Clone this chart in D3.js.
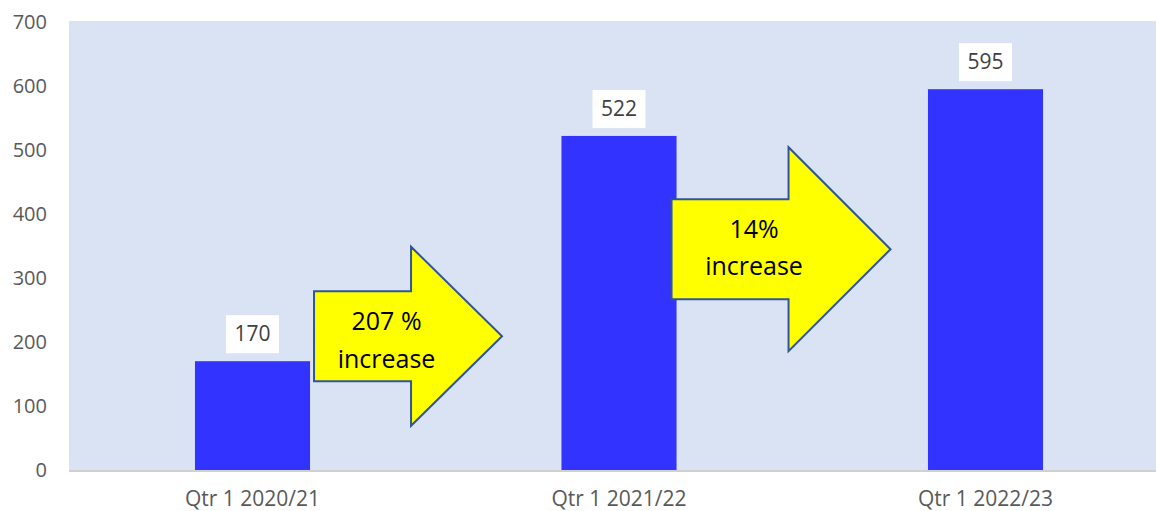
<!DOCTYPE html>
<html><head><meta charset="utf-8">
<script src="https://cdn.jsdelivr.net/npm/d3@7"></script>
<style>body{margin:0;background:#fff}svg{display:block}text{font-family:"Open Sans",sans-serif}</style>
</head><body><svg id="c" width="1157" height="511"></svg>
<script>
const categories = ["Qtr 1 2020/21", "Qtr 1 2021/22", "Qtr 1 2022/23"];
const values = [170, 522, 595];
const yTicks = [0, 100, 200, 300, 400, 500, 600, 700];
// arrow annotations: from category index, label lines, centre value
const arrowFrom = [0, 1];
const arrowLabels = [["207 %", "increase"], ["14%", "increase"]];
const arrowCenterValue = [209, 345];

(function () {
const svg = d3.select("#c");
const mLeft = 69, mTop = 21, mBottom = 470, plotRight = 1156;
const x = d3.scaleBand().domain(categories).range([69.25, 1168.75]).paddingInner(0.686).paddingOuter(0.343);
const y = d3.scaleLinear().domain([0, 700]).range([mBottom, 22]);

svg.append("rect").attr("x", mLeft).attr("y", mTop).attr("width", plotRight - mLeft).attr("height", mBottom - mTop).attr("fill", "#dae3f3");
svg.append("line").attr("x1", mLeft).attr("x2", plotRight).attr("y1", mBottom + 1).attr("y2", mBottom + 1).attr("stroke", "#d0d0d0").attr("stroke-width", 2);

// y axis
const ya = svg.append("g").attr("transform", `translate(${mLeft},0)`)
  .call(d3.axisLeft(y).tickValues(yTicks).tickSize(0).tickPadding(22));
ya.select(".domain").remove();
ya.selectAll("text").attr("font-size", 20).attr("fill", "#595959").attr("font-family", "Open Sans");

// x axis
const xa = svg.append("g").attr("transform", `translate(0,${mBottom})`)
  .call(d3.axisBottom(x).tickSize(0).tickPadding(21));
xa.select(".domain").remove();
xa.selectAll("text").attr("font-size", 21).attr("fill", "#595959").attr("font-family", "Open Sans");

// bars
svg.selectAll("rect.bar").data(values).join("rect").attr("class", "bar")
  .attr("x", (d, i) => x(categories[i])).attr("width", x.bandwidth())
  .attr("y", d => y(d)).attr("height", d => y(0) - y(d)).attr("fill", "#3333ff");

// value labels
const lg = svg.selectAll("g.vl").data(values).join("g").attr("class", "vl")
  .attr("transform", (d, i) => `translate(${x(categories[i]) + x.bandwidth() / 2},${y(d) - 8})`);
lg.append("rect").attr("x", -26.5).attr("y", -38).attr("width", 53).attr("height", 38).attr("fill", "#fff");
lg.append("text").attr("y", -12).attr("text-anchor", "middle").attr("font-size", 21).attr("fill", "#404040").text(d => d);

// arrows
const arrowGeom = [
  {dx0: 4, len: 188, body: 90, head: 179, headLen: 91, t1: -6, t2: 32},
  {dx0: -5, len: 219, body: 100, head: 204, headLen: 102, t1: -11, t2: 26}
];
arrowFrom.forEach((ci, k) => {
  const g = arrowGeom[k];
  const x0 = x(categories[ci]) + x.bandwidth() + g.dx0;
  const cy = y(arrowCenterValue[k]);
  const x1 = x0 + g.len, xh = x1 - g.headLen;
  const pts = [[x0, cy - g.body / 2], [xh, cy - g.body / 2], [xh, cy - g.head / 2], [x1, cy], [xh, cy + g.head / 2], [xh, cy + g.body / 2], [x0, cy + g.body / 2]];
  svg.append("path").attr("d", d3.line()(pts) + "Z").attr("fill", "#ffff00").attr("stroke", "#2f5597").attr("stroke-width", 2).attr("stroke-linejoin", "miter");
  const tx = (x0 + xh) / 2 + 24;
  const t = svg.append("text").attr("text-anchor", "middle").attr("font-size", 25).attr("fill", "#000");
  arrowLabels[k].forEach((s, j) => t.append("tspan").attr("x", tx).attr("y", cy + (j === 0 ? g.t1 : g.t2)).text(s));
});
})();
</script></body></html>
